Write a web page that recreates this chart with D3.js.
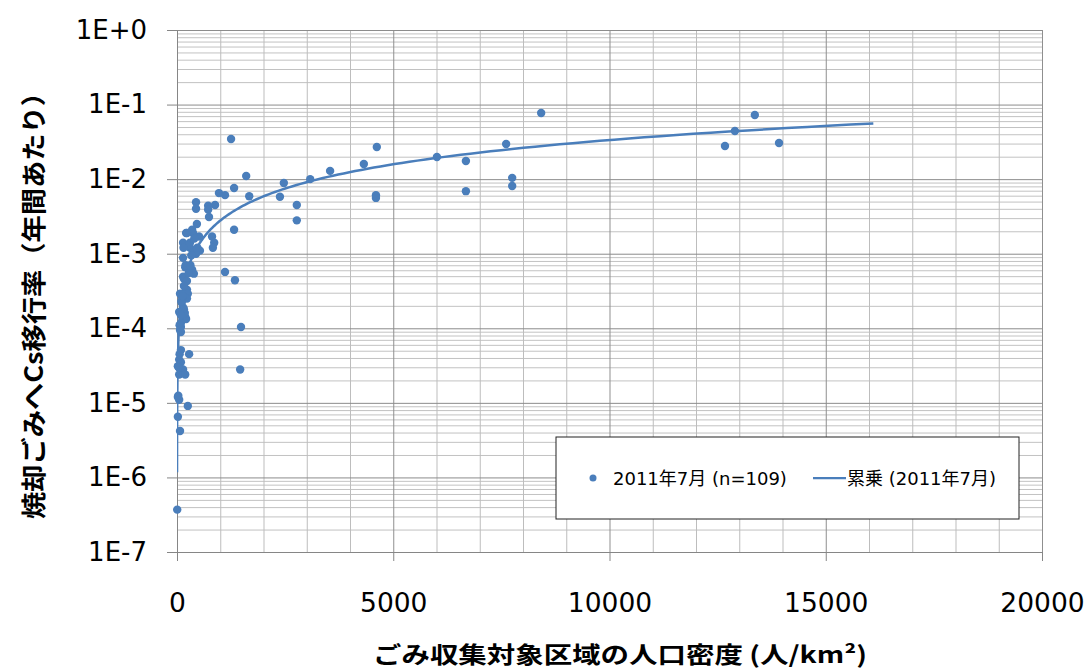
<!DOCTYPE html>
<html>
<head>
<meta charset="utf-8">
<script src="https://cdn.jsdelivr.net/npm/d3@7"></script>
<style>
  body { margin: 0; background: #ffffff; }
</style>
</head>
<body>
<div id="graf"></div>
<script>
// Cs移行率 vs 人口密度 (散布図 + 累乗近似)

// I. Datos leídos del gráfico
// densidad: 人口密度 (人/km²), tasa: 焼却ごみへのCs移行率 (年間あたり)
densidad = [8420, 13360, 12900, 12670, 13920, 6010, 6680, 6680, 7610, 7750,
            7750, 4620, 4320, 3540, 3080, 2470, 2380, 2770, 2770, 4600,
            4600, 1250, 1600, 1320, 1670, 970, 1110, 1320, 1110, 1340,
            1480, 1460, 880, 440, 440, 720, 720, 740, 460, 350,
            210, 370, 510, 810, 860, 830, 140, 300, 300, 370,
            490, 440, 530, 140, 190, 280, 350, 390, 140, 160,
            230, 230, 250, 70, 120, 230, 140, 160, 50, 190,
            210, 90, 90, 90, 90, 280, 50, 90, 20, 140,
            50, 190, 20, 50, 250, 20, 70, 5,
            260, 420, 330, 200, 310, 160, 110, 180, 60, 40,
            30, 100, 230, 470, 90, 60, 400, 150, 270, 130, 70]
tasa = [0.077, 0.0725, 0.0442, 0.0278, 0.0305, 0.0198, 0.0175, 0.0069, 0.0296, 0.0104,
        0.0081, 0.027, 0.016, 0.0129, 0.0100, 0.0089, 0.0058, 0.0045, 0.0028, 0.0061,
        0.0056, 0.0345, 0.0110, 0.0076, 0.0059, 0.0065, 0.0061, 0.0021, 0.00057, 0.00044,
        0.000104, 0.000028, 0.0045, 0.0049, 0.0040, 0.0044, 0.0039, 0.0031, 0.0025, 0.0021,
        0.0019, 0.0019, 0.0017, 0.0017, 0.0014, 0.0012, 0.0014, 0.0014, 0.0012, 0.0011,
        0.0011, 0.0010, 0.0011, 0.00088, 0.00066, 0.00066, 0.00061, 0.00054, 0.00049, 0.00046,
        0.00043, 0.00033, 0.00029, 0.00029, 0.00026, 0.00025, 0.00019, 0.00018, 0.000165, 0.000142,
        0.000133, 0.000118, 0.000104, 0.000089, 0.000051, 0.000045, 0.000038, 0.000035, 0.000031, 0.000028,
        0.000024, 0.000024, 0.000012, 0.000011, 0.0000091, 0.0000065, 0.0000042, 0.00000037,
        0.0013, 0.00105, 0.00095, 0.0007, 0.0007, 0.00037, 0.00022, 0.00016, 0.00011, 0.00003,
        0.0000125, 0.00023, 0.0019, 0.0012, 0.00015, 0.000045, 0.0016, 0.0012, 0.00055, 0.00027, 0.000095]

// 累乗近似 y = a * x^b (coeficientes)
trendA = 1.6e-6
trendB = 1.08
trendDesde = 0.75
trendHasta = 16100

// ticks y etiquetas
xTicks = [0, 5000, 10000, 15000, 20000]
yTicks = [1e-7, 1e-6, 1e-5, 1e-4, 1e-3, 1e-2, 1e-1, 1]
yTickLabels = ['1E-7', '1E-6', '1E-5', '1E-4', '1E-3', '1E-2', '1E-1', '1E+0']
serieNombre = '2011年7月 (n=109)'
trendNombre = '累乗 (2011年7月)'
tituloXTexto = 'ごみ収集対象区域の人口密度 (人/km²)'
tituloYTexto = '焼却ごみへCs移行率（年間あたり）'

azul = '#4a7ebb'

// II. Área de trabajo
ancho_total = 1086
alto_total = 672
margins = { top: 30, left: 177, right: 44, bottom: 120 }
ancho = ancho_total - margins.left - margins.right
alto = alto_total - margins.top - margins.bottom

svg = d3.select('#graf').append('svg')
        .attr('width', ancho_total)
        .attr('height', alto_total)
        .style('display', 'block')

g = svg.append('g')
       .attr('transform', `translate(${margins.left}, ${margins.top})`)

x = d3.scaleLinear().domain([0, 20000]).range([0, ancho])
y = d3.scaleLog().domain([1e-7, 1]).range([alto, 0])

// líneas de cuadrícula menores (2..9 en cada década, cada 1000 en x)
yMenores = []
for (k = -7; k < 0; k++) {
  for (m = 2; m <= 9; m++) yMenores.push(m * Math.pow(10, k))
}
xMenores = d3.range(1000, 20000, 1000).filter(v => v % 5000 != 0)

g.append('g')
  .attr('class', 'grid')
  .call(d3.axisLeft(y).tickValues(yMenores).tickFormat('').tickSize(-ancho).tickSizeOuter(0))
  .call(s => s.select('.domain').remove())
  .call(s => s.selectAll('line').attr('stroke', '#c2c2c2'))

g.append('g')
  .attr('class', 'grid')
  .attr('transform', `translate(0, ${alto})`)
  .call(d3.axisBottom(x).tickValues(xMenores).tickFormat('').tickSize(-alto).tickSizeOuter(0))
  .call(s => s.select('.domain').remove())
  .call(s => s.selectAll('line').attr('stroke', '#bdbdbd'))

g.append('g')
  .attr('transform', `translate(0, ${alto})`)
  .call(d3.axisBottom(x).tickValues(xTicks.slice(1)).tickFormat('').tickSize(-alto).tickSizeOuter(0))
  .call(s => s.select('.domain').remove())
  .call(s => s.selectAll('line').attr('stroke', '#8f8f8f'))

g.append('g')
  .call(d3.axisLeft(y).tickValues(yTicks.slice(1)).tickFormat('').tickSize(-ancho).tickSizeOuter(0))
  .call(s => s.select('.domain').remove())
  .call(s => s.selectAll('line').attr('stroke', '#8c8c8c'))

// ejes
yAxis = d3.axisLeft(y)
          .tickValues(yTicks)
          .tickFormat((d, i) => yTickLabels[i])
          .tickSize(10)
          .tickSizeOuter(0)
          .tickPadding(20)

g.append('g')
  .call(yAxis)
  .call(s => s.select('.domain').attr('stroke', '#868686'))
  .call(s => s.selectAll('line').attr('stroke', '#868686'))
  .call(s => s.selectAll('text')
              .attr('fill', '#000')
              .attr('font-family', '"DejaVu Sans", Verdana, sans-serif')
              .attr('font-size', '26px'))

xAxis = d3.axisBottom(x)
          .tickValues(xTicks)
          .tickFormat(d3.format('d'))
          .tickSize(9)
          .tickSizeOuter(0)
          .tickPadding(32)

g.append('g')
  .attr('transform', `translate(0, ${alto})`)
  .call(xAxis)
  .call(s => s.select('.domain').attr('stroke', '#868686'))
  .call(s => s.selectAll('line').attr('stroke', '#868686'))
  .call(s => s.selectAll('text')
              .attr('fill', '#000')
              .attr('font-family', '"DejaVu Sans", Verdana, sans-serif')
              .attr('font-size', '26.5px'))

// títulos de ejes (estirados al ancho del original)
svg.append('text')
   .attr('x', 620)
   .attr('y', 653)
   .attr('text-anchor', 'middle')
   .attr('dominant-baseline', 'central')
   .attr('font-family', '"Noto Sans CJK JP", sans-serif')
   .attr('font-weight', 'bold')
   .attr('font-size', '23px')
   .attr('textLength', 494)
   .attr('lengthAdjust', 'spacingAndGlyphs')
   .attr('fill', '#000')
   .text(tituloXTexto)

svg.append('text')
   .attr('transform', 'translate(32, 299) rotate(-90)')
   .attr('text-anchor', 'middle')
   .attr('dominant-baseline', 'central')
   .attr('font-family', '"Noto Sans CJK JP", sans-serif')
   .attr('font-weight', 'bold')
   .attr('font-size', '25px')
   .attr('textLength', 440)
   .attr('lengthAdjust', 'spacingAndGlyphs')
   .attr('fill', '#000')
   .text(tituloYTexto)

// clip del área de trazado
g.append('clipPath')
  .attr('id', 'clip')
  .append('rect')
  .attr('x', 0).attr('y', 0)
  .attr('width', ancho).attr('height', alto)

// curva de tendencia (累乗)
trendX = d3.range(0, 301).map(i => trendDesde * Math.pow(trendHasta / trendDesde, i / 300))
trendPts = trendX.map(v => [v, trendA * Math.pow(v, trendB)])

g.append('path')
  .datum(trendPts)
  .attr('clip-path', 'url(#clip)')
  .attr('fill', 'none')
  .attr('stroke', azul)
  .attr('stroke-width', 2.5)
  .attr('d', d3.line().x(d => x(d[0])).y(d => y(d[1])))

// puntos
datos = densidad.map((d, i) => ({ densidad: d, tasa: tasa[i] }))

g.selectAll('circle.punto')
  .data(datos)
  .enter()
  .append('circle')
    .attr('class', 'punto')
    .attr('cx', d => x(d.densidad))
    .attr('cy', d => y(d.tasa))
    .attr('r', 4.2)
    .attr('fill', azul)

// leyenda
leyenda = svg.append('g').attr('transform', 'translate(556, 437)')

leyenda.append('rect')
  .attr('x', 0).attr('y', 0)
  .attr('width', 463).attr('height', 82)
  .attr('fill', '#fff')
  .attr('stroke', '#222')
  .attr('stroke-width', 1)

leyenda.append('circle')
  .attr('cx', 37).attr('cy', 41).attr('r', 3.5)
  .attr('fill', azul)

leyenda.append('text')
  .attr('x', 57).attr('y', 41)
  .attr('dominant-baseline', 'central')
  .attr('font-family', '"DejaVu Sans", "Noto Sans CJK JP", sans-serif')
  .attr('font-size', '18px')
  .attr('fill', '#000')
  .text(serieNombre)

leyenda.append('line')
  .attr('x1', 257).attr('x2', 290)
  .attr('y1', 41).attr('y2', 41)
  .attr('stroke', azul)
  .attr('stroke-width', 2.25)

leyenda.append('text')
  .attr('x', 291).attr('y', 41)
  .attr('dominant-baseline', 'central')
  .attr('font-family', '"DejaVu Sans", "Noto Sans CJK JP", sans-serif')
  .attr('font-size', '18px')
  .attr('fill', '#000')
  .text(trendNombre)
</script>
</body>
</html>
